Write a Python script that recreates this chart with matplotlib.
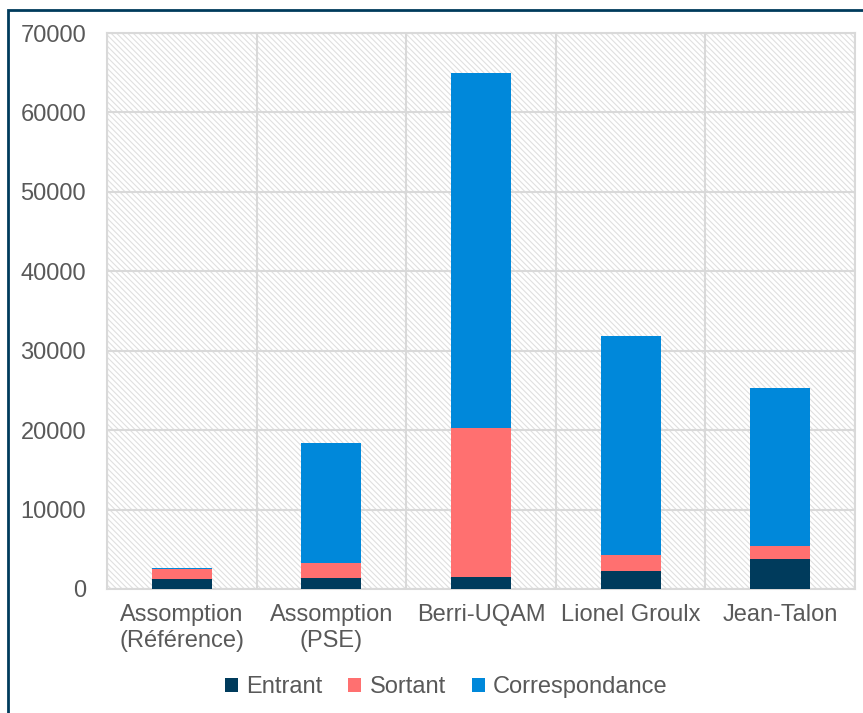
import numpy as np
import matplotlib.pyplot as plt
from matplotlib.patches import Rectangle

plt.rcParams['font.family'] = ['Liberation Sans', 'DejaVu Sans']
plt.rcParams['hatch.linewidth'] = 0.8

# Données
stations = ['Assomption\n(Référence)', 'Assomption\n(PSE)', 'Berri-UQAM',
            'Lionel Groulx', 'Jean-Talon']
entrant = [1200, 1350, 1550, 2250, 3800]
sortant = [1250, 1900, 18700, 2000, 1650]
correspondance = [200, 15150, 44750, 27600, 19900]

couleurs = ['#003B5C', '#FF7070', '#0088DA']
gris_texte = '#595959'
gris_grille = '#d9d9d9'

fig = plt.figure(figsize=(8.63, 7.13), dpi=100)
ax = fig.add_axes([0.124, 0.174, 0.8667, 0.7797])

x = np.arange(len(stations))
largeur = 0.4

# fond hachuré
fond = Rectangle((0, 0), 1, 1, transform=ax.transAxes, facecolor='white',
                 edgecolor='#e0e0e0', hatch='\\\\\\\\\\\\', linewidth=0, zorder=0)
ax.add_patch(fond)

bas = np.zeros(len(stations))
for vals, nom, c in zip([entrant, sortant, correspondance],
                        ['Entrant', 'Sortant', 'Correspondance'], couleurs):
    ax.bar(x, vals, largeur, bottom=bas, color=c, label=nom, zorder=3)
    bas += np.array(vals)

ax.set_xlim(-0.5, len(stations) - 0.5)
ax.set_ylim(0, 70000)
ax.set_yticks(np.arange(0, 70001, 10000))
ax.set_xticks(x)
ax.set_xticklabels(stations)
ax.set_xticks(np.arange(-0.5, len(stations), 1), minor=True)

ax.grid(True, axis='y', color=gris_grille, linewidth=1.5, zorder=1)
ax.grid(True, axis='x', which='minor', color=gris_grille, linewidth=1.5, zorder=1)
ax.set_axisbelow(True)

ax.tick_params(axis='both', which='both', length=0, labelsize=17,
               labelcolor=gris_texte)
ax.tick_params(axis='y', pad=15)
ax.tick_params(axis='x', pad=11)

for s in ax.spines.values():
    s.set_color(gris_grille)
    s.set_linewidth(1.5)

fig.legend(loc='center', bbox_to_anchor=(0.517, 0.036), ncol=3, frameon=False,
           fontsize=17, handlelength=0.55, handleheight=0.55, handletextpad=0.35,
           columnspacing=1.1, labelcolor=gris_texte)

# cadre du graphique
cadre = Rectangle((8 / 863, -0.1), 1.2, 1 - 10 / 713 + 0.1,
                  transform=fig.transFigure, fill=False,
                  edgecolor='#003B5C', linewidth=2, clip_on=False)
fig.patches.append(cadre)

fig.savefig('out.png', dpi=100)
